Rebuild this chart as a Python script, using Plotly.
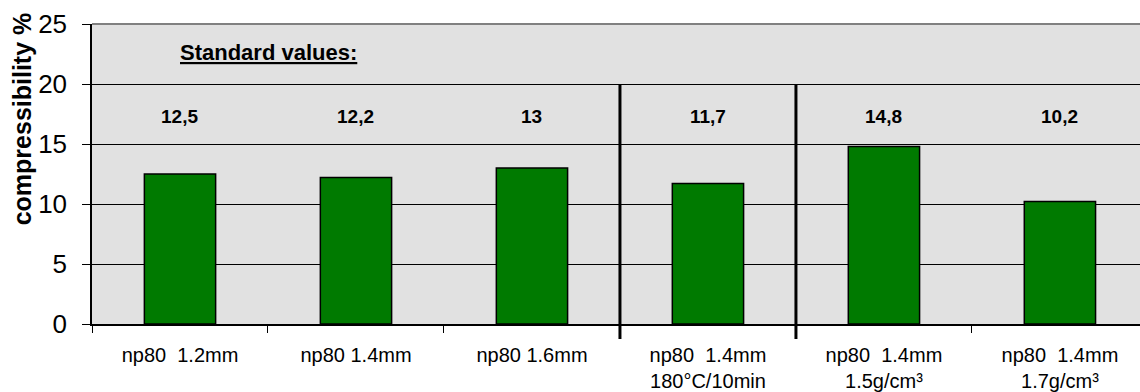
import plotly.graph_objects as go

# Compressibility of np80 samples under different conditions
categories = [
    "np80\u00a0\u00a01.2mm",
    "np80 1.4mm",
    "np80 1.6mm",
    "np80\u00a0\u00a01.4mm<br>180°C/10min",
    "np80\u00a0\u00a01.4mm<br>1.5g/cm³",
    "np80\u00a0\u00a01.4mm<br>1.7g/cm³",
]
compressibility = [12.5, 12.2, 13.0, 11.7, 14.8, 10.2]
y_ticks = [0, 5, 10, 15, 20, 25]
group_breaks = [2.5, 3.5]  # category boundaries separating test groups

FONT = "Arial, Liberation Sans, sans-serif"


def fmt(v):
    s = f"{v:g}"
    return s.replace(".", ",")


fig = go.Figure()
fig.add_trace(go.Bar(
    x=categories,
    y=compressibility,
    marker=dict(color="#007A00", line=dict(color="#000000", width=1.5)),
    width=0.405,
    hoverinfo="x+y",
))

# value labels above the bars
for cat, v in zip(categories, compressibility):
    fig.add_annotation(
        x=cat, y=17.3, xref="x", yref="y",
        text=f"<b>{fmt(v)}</b>", showarrow=False,
        xanchor="center", yanchor="middle",
        font=dict(family=FONT, size=19, color="#000000"),
    )

fig.add_annotation(
    x=0.1685, y=0.905, xref="paper", yref="paper",
    text="<b><u>Standard values:</u></b>", showarrow=False,
    xanchor="center", yanchor="middle",
    font=dict(family=FONT, size=22, color="#000000"),
)

fig.add_annotation(
    x=-0.066, y=0.685, xref="paper", yref="paper",
    text="<b>compressibility %</b>", showarrow=False, textangle=-90,
    xanchor="center", yanchor="middle",
    font=dict(family=FONT, size=25, color="#000000"),
)

# vertical separators between groups
for b in group_breaks:
    fig.add_shape(
        type="line", xref="x", yref="paper",
        x0=b, x1=b, y0=0.8, y1=-0.05,
        line=dict(color="#000000", width=3),
    )

# top border of the plot area
fig.add_shape(
    type="line", xref="paper", yref="paper",
    x0=0, x1=1, y0=1, y1=1,
    line=dict(color="#808080", width=2),
)

fig.update_layout(
    width=1140, height=392,
    margin=dict(l=92, r=0, t=24, b=66),
    plot_bgcolor="#E1E1E1",
    paper_bgcolor="#FFFFFF",
    showlegend=False,
    font=dict(family=FONT, color="#000000"),
)

fig.update_xaxes(
    type="category",
    range=[-0.5, 5.455],
    showgrid=False,
    showline=True, linecolor="#000000", linewidth=1.5,
    ticks="outside", ticklen=7, tickcolor="#000000", tickwidth=1,
    tickson="boundaries",
    tickfont=dict(family=FONT, size=20, color="#000000"),
    ticklabelstandoff=12,
)

fig.update_yaxes(
    range=[0, 25],
    tickvals=y_ticks,
    showgrid=True, gridcolor="#000000", gridwidth=1,
    zeroline=False,
    showline=True, linecolor="#000000", linewidth=1.5,
    ticks="outside", ticklen=8, tickcolor="#000000",
    tickfont=dict(family=FONT, size=26, color="#000000"),
    ticklabelstandoff=10,
)

fig.write_html("out.html")
